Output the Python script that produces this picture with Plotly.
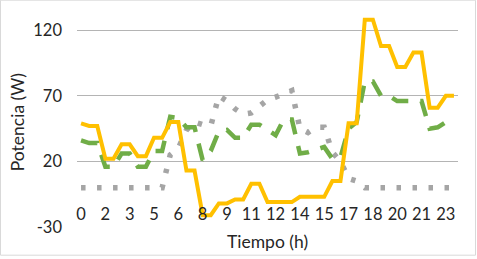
import plotly.graph_objects as go

# ---- data ----
hours = [0, 0.5, 1, 1.5, 2, 2.5, 3, 3.5, 4, 4.5, 5, 5.5, 6, 6.5, 7, 7.5, 8, 8.5, 9, 9.5,
         10, 10.5, 11, 11.5, 12, 12.5, 13, 13.5, 14, 14.5, 15, 15.5, 16, 16.5, 17, 17.5,
         18, 18.5, 19, 19.5, 20, 20.5, 21, 21.5, 22, 22.5, 23]

orange_vals = [49, 47, 47, 22, 22, 33, 33, 24, 24, 38, 38, 50, 50, 13, 13, -21, -21, -12, -12, -9,
               -9, 3, 3, -11, -11, -11, -11, -7, -7, -7, -7, 5, 5, 49, 49, 128, 128, 108, 108, 92,
               92, 103, 103, 61, 61, 70, 70]

green_vals = [36, 34, 34, 16, 16, 26, 26, 16, 16, 28, 28, 54, 53, 46, 46, 21, 28, 43, 44, 38,
              38, 48, 48, 44, 40, 52, 52, 26, 27, 29, 31, 22, 23, 45, 50, 81, 81, 70, 70, 66,
              66, 66, 66, 45, 46, 50, 50]

gray_vals = [0, 0, 0, 0, 0, 0, 0, 0, 0, 0, 0, 25, 30, 44, 50, 48, 47, 70, 66, 60,
             56, 57, 62, 67, 69, 72, 74, 45, 42, 46, 46, 27, 20, 7, 5, 0, 0, 0, 0, 0,
             0, 0, 0, 0, 0, 0, 0]

tick_vals = [0, 1.5, 3, 4.5, 6, 7.5, 9, 10.5, 12, 13.5, 15, 16.5, 18, 19.5, 21, 22.5]
tick_text = ["0", "2", "3", "5", "6", "8", "9", "11", "12", "14", "15", "17", "18", "20", "21", "23"]

y_ticks = [-30, 20, 70, 120]
y_tick_text = ["-30", "20", "70", "120"]
x_title = "Tiempo (h)"
y_title = "Potencia (W)"

# ---- figure ----
FONT = "Lato, 'Open Sans', sans-serif"
TXT = "#262626"

fig = go.Figure()
fig.add_trace(go.Scatter(x=hours, y=gray_vals, mode="lines", name="Serie 3",
                         line=dict(color="#A5A5A5", width=5.5, dash="4.5px,11.5px")))
fig.add_trace(go.Scatter(x=hours, y=green_vals, mode="lines", name="Serie 2",
                         line=dict(color="#70AD47", width=4.5, dash="17px,12px")))
fig.add_trace(go.Scatter(x=hours, y=orange_vals, mode="lines", name="Serie 1",
                         line=dict(color="#FFC000", width=4)))

W, H = 477, 259
L, R, T, B = 77, 19, 4, 32
ymin, ymax = -30, 140

fig.update_layout(
    template="none",
    width=W, height=H,
    margin=dict(l=L, r=R, t=T, b=B, pad=0, autoexpand=False),
    paper_bgcolor="white", plot_bgcolor="white",
    showlegend=False,
    font=dict(family=FONT, size=16.5, color=TXT),
    xaxis=dict(
        range=[-0.25, 23.25], tickmode="array", tickvals=tick_vals, ticktext=tick_text,
        showgrid=False, zeroline=False, showline=False, ticks="", automargin=False,
        anchor="free", position=(0 - ymin) / (ymax - ymin),
        tickfont=dict(family=FONT, size=16.5, color=TXT),
        ticklabelstandoff=15,
    ),
    yaxis=dict(
        range=[ymin, ymax], tickmode="array", tickvals=y_ticks, ticktext=y_tick_text,
        showgrid=True, gridcolor="#B4B4B4", gridwidth=1, zeroline=False, automargin=False,
        showline=False, ticks="", ticklabelstandoff=14,
        tickfont=dict(family=FONT, size=16.5, color=TXT),
    ),
)

plot_h = H - T - B
fig.add_annotation(text=x_title, xref="paper", yref="paper", x=0.5,
                   y=(227.3 - 241.7) / plot_h, showarrow=False,
                   font=dict(family=FONT, size=17.5, color=TXT), xanchor="center", yanchor="middle")
fig.add_annotation(text=y_title, xref="paper", yref="paper", x=(17 - L) / (W - L - R),
                   y=(227.3 - 122.5) / plot_h, showarrow=False, textangle=-90,
                   font=dict(family=FONT, size=17.5, color=TXT), xanchor="center", yanchor="middle")

# chart-area border
pw = W - L - R
fig.add_shape(type="rect", xref="paper", yref="paper",
              x0=(0.5 - L) / pw, x1=(475.5 - L) / pw,
              y0=(227.3 - 255.5) / plot_h, y1=(227.3 - 0.5) / plot_h,
              line=dict(color="#D9D9D9", width=1), layer="below")

fig.write_html("out.html", config={"displayModeBar": False},
               post_script="document.body.style.margin='0';")
